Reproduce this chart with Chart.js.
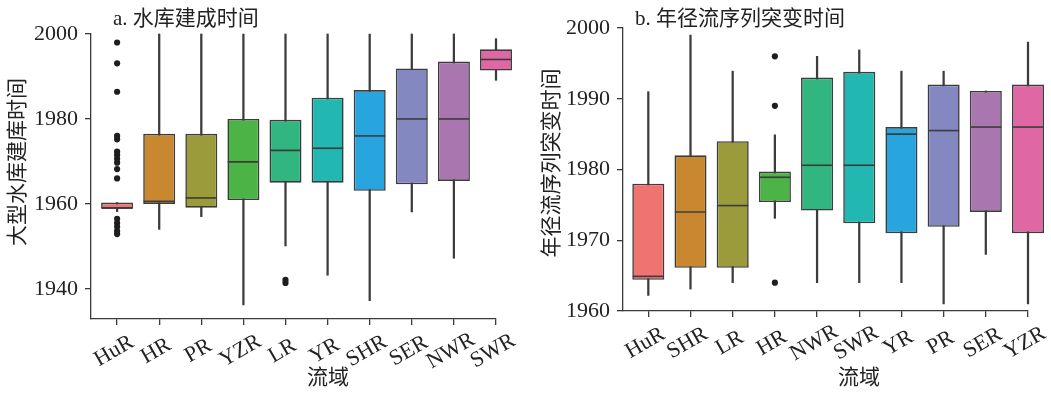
<!DOCTYPE html>
<html>
<head>
<meta charset="utf-8">
<script src="https://cdn.jsdelivr.net/npm/chart.js@4.4.0/dist/chart.umd.min.js"></script>
<style>
  html, body { margin: 0; padding: 0; background: #fff; }
  #wrap { position: relative; width: 1051px; height: 394px; }
  canvas { position: absolute; top: 0; }
</style>
</head>
<body>
<div id="wrap">
  <canvas id="chartA" width="525" height="394" style="left:0"></canvas>
  <canvas id="chartB" width="526" height="394" style="left:525px"></canvas>
</div>
<script>
"use strict";

// a. 水库建成时间
var basinsA = ["HuR", "HR", "PR", "YZR", "LR", "YR", "SHR", "SER", "NWR", "SWR"];
var lowA = [1958.2, 1954, 1957, 1936.2, 1950.1, 1943.2, 1937.2, 1958.1, 1947.2, 1989.1];
var q1A = [1958.9, 1960, 1959.1, 1960.9, 1965, 1965, 1963.1, 1964.6, 1965.4, 1991.4];
var medA = [1959, 1960.6, 1961.4, 1969.9, 1972.6, 1973.1, 1976, 1980, 1980, 1994];
var q3A = [1960.3, 1976.5, 1976.5, 1980, 1979.8, 1985, 1986.8, 1991.9, 1993.5, 1996.4];
var highA = [1960.3, 2000, 2000, 2000, 2000, 2000, 2000, 2000, 2000, 1998.9];
var outliersA = [
  [1998, 1993.1, 1986.4, 1976, 1975.2, 1972.3, 1971.5, 1970.6, 1969.7, 1968.2, 1966,
   1956.5, 1955.5, 1954.6, 1953.6, 1952.9],
  [], [], [], [1942.1, 1941.4], [], [], [], [], []
];
var yTicksA = [1940, 1960, 1980, 2000];

// b. 年径流序列突变时间
var basinsB = ["HuR", "SHR", "LR", "HR", "NWR", "SWR", "YR", "PR", "SER", "YZR"];
var lowB = [1962.2, 1963.1, 1964, 1973.1, 1964, 1964, 1964, 1961, 1968, 1961];
var q1B = [1964.4, 1966.1, 1966.1, 1975.4, 1974.2, 1972.4, 1971, 1971.9, 1974, 1971];
var medB = [1964.9, 1974, 1974.9, 1978.9, 1980.6, 1980.6, 1985, 1985.5, 1986, 1986];
var q3B = [1978, 1982, 1984, 1979.7, 1993, 1993.8, 1986, 1992, 1991.1, 1992];
var highB = [1991, 1999, 1993.9, 1984.9, 1996, 1996.9, 1993.9, 1993.9, 1991.1, 1998];
var outliersB = [[], [], [], [1996, 1989, 1964], [], [], [], [], [], []];
var yTicksB = [1960, 1970, 1980, 1990, 2000];

var palette = ["#ef7471", "#c98830", "#9b9b3b", "#4cb447", "#30b67e",
               "#22b7b1", "#28a5de", "#8388c0", "#a976b0", "#de67a4"];
var lineColor = "#3c3c3c";
var axisColor = "#3a3a3a";
var serif = "'Liberation Serif', 'Noto Sans CJK SC', serif";

function boxDatasets(low, q1, med, q3, high, outliers) {
  var whiskers = [], boxes = [], medians = [], points = [];
  for (var i = 0; i < q1.length; i++) {
    whiskers.push({x: i, y: [low[i], high[i]]});
    boxes.push({x: i, y: [q1[i], q3[i]]});
    medians.push({x: i, y: med[i]});
    outliers[i].forEach(function(v) { points.push({x: i, y: v}); });
  }
  return [{
    type: "bar",
    data: whiskers,
    backgroundColor: lineColor,
    barThickness: 1.6,
    grouped: false,
    order: 3,
    clip: false
  }, {
    type: "bar",
    data: boxes,
    backgroundColor: palette,
    borderColor: lineColor,
    borderWidth: 1.6,
    borderSkipped: false,
    grouped: false,
    barPercentage: 0.76,
    categoryPercentage: 1,
    order: 2,
    clip: false
  }, {
    type: "scatter",
    data: medians,
    pointStyle: "line",
    pointRadius: 15.6,
    pointBorderColor: lineColor,
    pointBorderWidth: 1.6,
    order: 1,
    clip: false
  }, {
    type: "scatter",
    data: points,
    pointStyle: "circle",
    pointRadius: 3.1,
    pointBackgroundColor: "#1e1e1e",
    pointBorderWidth: 0,
    order: 0,
    clip: false
  }];
}

function textPlugin(opt) {
  return {
    id: "boxText",
    afterDraw: function(chart) {
      var ctx = chart.ctx;
      var xs = chart.scales.x;
      var area = chart.chartArea;
      ctx.save();
      ctx.fillStyle = "#222";
      ctx.font = "21px " + serif;
      ctx.textBaseline = "middle";

      // panel title
      ctx.textAlign = "left";
      ctx.fillText(opt.title, opt.titleX, 19);

      // x axis title
      ctx.textAlign = "center";
      ctx.fillText(opt.xTitle, opt.xTitleX, 378);

      // y axis title
      ctx.save();
      ctx.translate(opt.yTitleX, opt.yTitleY);
      ctx.rotate(-Math.PI / 2);
      ctx.fillText(opt.yTitle, 0, 0);
      ctx.restore();

      // rotated category labels
      ctx.font = "22px " + serif;
      opt.labels.forEach(function(lab, i) {
        var px = xs.getPixelForValue(i);
        ctx.save();
        ctx.translate(px - 3, area.bottom + 32);
        ctx.rotate(-Math.PI / 6);
        ctx.fillText(lab, 0, 0);
        ctx.restore();
      });
      ctx.restore();
    }
  };
}

function makeChart(id, o) {
  return new Chart(document.getElementById(id), {
    type: "bar",
    data: {datasets: boxDatasets(o.low, o.q1, o.med, o.q3, o.high, o.outliers)},
    options: {
      responsive: false,
      animation: false,
      devicePixelRatio: 1,
      events: [],
      layout: {padding: {left: 0, top: o.top, right: o.right, bottom: 0}},
      plugins: {legend: {display: false}, tooltip: {enabled: false}},
      scales: {
        x: {
          type: "linear",
          offset: false,
          min: o.xMin,
          max: o.labels.length - 1,
          afterBuildTicks: function(scale) {
            scale.ticks = o.labels.map(function(l, i) { return {value: i}; });
          },
          afterFit: function(scale) { scale.height = 394 - o.bottom; },
          ticks: {display: false},
          grid: {
            offset: false, drawOnChartArea: false, drawTicks: true,
            tickLength: 6, lineWidth: 1.3, color: axisColor
          },
          border: {display: true, color: axisColor, width: 1.3}
        },
        y: {
          type: "linear",
          min: o.yMin,
          max: o.yMax,
          afterBuildTicks: function(scale) {
            scale.ticks = o.yTicks.map(function(v) { return {value: v}; });
          },
          afterFit: function(scale) { scale.width = o.left; },
          ticks: {
            color: "#222",
            padding: 7,
            font: {family: serif, size: 22},
            callback: function(v) { return String(v); }
          },
          grid: {drawOnChartArea: false, drawTicks: true, tickLength: 6, color: axisColor, lineWidth: 1.3},
          border: {display: true, color: axisColor, width: 1.3}
        }
      }
    },
    plugins: [textPlugin(o)]
  });
}

makeChart("chartA", {
  labels: basinsA, low: lowA, q1: q1A, med: medA, q3: q3A, high: highA, outliers: outliersA,
  yTicks: yTicksA, yMin: 1932.9, yMax: 2000, xMin: -0.62,
  left: 91, top: 34, right: 29, bottom: 319,
  title: "a. 水库建成时间", titleX: 113,
  xTitle: "流域", xTitleX: 328,
  yTitle: "大型水库建库时间", yTitleX: 18, yTitleY: 162
});

makeChart("chartB", {
  labels: basinsB, low: lowB, q1: q1B, med: medB, q3: q3B, high: highB, outliers: outliersB,
  yTicks: yTicksB, yMin: 1960, yMax: 2000, xMin: -0.6,
  left: 98, top: 28, right: 23, bottom: 311,
  title: "b. 年径流序列突变时间", titleX: 110,
  xTitle: "流域", xTitleX: 334,
  yTitle: "年径流序列突变时间", yTitleX: 27, yTitleY: 163
});
</script>
</body>
</html>
